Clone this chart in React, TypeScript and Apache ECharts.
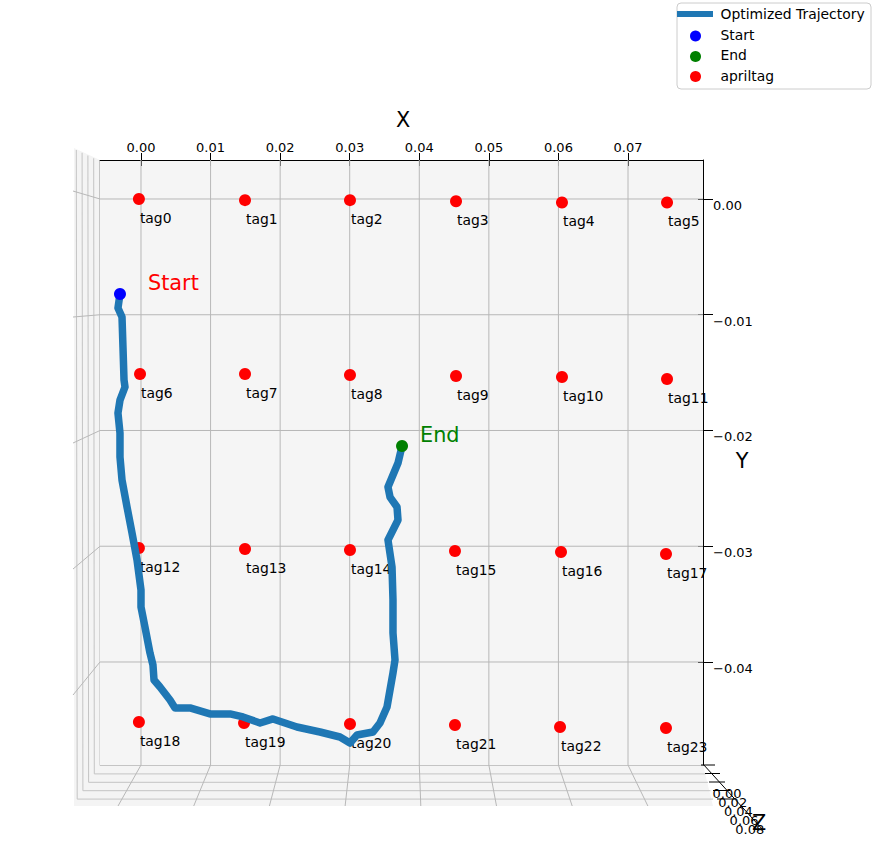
import React, { useEffect, useRef } from 'react';
import * as echarts from 'echarts';

const FONT = '"DejaVu Sans", sans-serif';

const xTicks = [0, 0.01, 0.02, 0.03, 0.04, 0.05, 0.06, 0.07];
const yTicks = [0, -0.01, -0.02, -0.03, -0.04];
const zTickLabels = ['0.00', '0.02', '0.04', '0.06', '0.08'];

const tagNames = [
  'tag0', 'tag1', 'tag2', 'tag3', 'tag4', 'tag5',
  'tag6', 'tag7', 'tag8', 'tag9', 'tag10', 'tag11',
  'tag12', 'tag13', 'tag14', 'tag15', 'tag16', 'tag17',
  'tag18', 'tag19', 'tag20', 'tag21', 'tag22', 'tag23',
];
const tagX = [
  -0.0003, 0.01495, 0.03004, 0.04528, 0.06051, 0.07561,
  -0.00014, 0.01495, 0.03004, 0.04528, 0.06051, 0.07561,
  -0.0003, 0.01495, 0.03004, 0.04513, 0.06037, 0.07546,
  -0.0003, 0.01481, 0.03004, 0.04513, 0.06023, 0.07546,
];
const tagY = [
  0, -0.0001, -0.0001, -0.0002, -0.0003, -0.0003,
  -0.01512, -0.01512, -0.0152, -0.01529, -0.01538, -0.01555,
  -0.03015, -0.03024, -0.03032, -0.03041, -0.0305, -0.03067,
  -0.04518, -0.04527, -0.04536, -0.04544, -0.04562, -0.0457,
];

const trajX = [
  -0.00302, -0.00331, -0.00273, -0.00259, -0.00244, -0.0023, -0.00302, -0.00331,
  -0.00302, -0.00302, -0.00273, -0.00201, -0.00129, -0.00057, 0, 0,
  0.00057, 0.00129, 0.00172, 0.00187, 0.00273, 0.00417, 0.00489, 0.00704,
  0.00992, 0.0128, 0.01466, 0.01711, 0.01897, 0.02242, 0.02573, 0.0286,
  0.03004, 0.03105, 0.03335, 0.03435, 0.03536, 0.03622, 0.03651, 0.03622,
  0.03622, 0.03608, 0.0355, 0.03694, 0.0368, 0.03579, 0.0355, 0.03694, 0.03752,
];
const trajY = [
  -0.00821, -0.00942, -0.01019, -0.01279, -0.01564, -0.01624, -0.01737, -0.01849,
  -0.02022, -0.02229, -0.02428, -0.02661, -0.02886, -0.03119, -0.03378, -0.03525,
  -0.03698, -0.03922, -0.04026, -0.04156, -0.04216, -0.04328, -0.04397, -0.04397,
  -0.04449, -0.04449, -0.04475, -0.04527, -0.04492, -0.04562, -0.04605, -0.04648,
  -0.047, -0.04631, -0.04605, -0.04527, -0.04389, -0.04095, -0.03983, -0.03749,
  -0.03464, -0.03179, -0.02946, -0.02773, -0.02661, -0.02575, -0.02488, -0.02281, -0.02134,
];

const startPoint = [-0.00302, -0.00821];
const endPoint = [0.03752, -0.02134];

const X_MIN = -0.005893;
const X_MAX = 0.08078;
const Y_MIN = -0.0489;
const Y_MAX = 0.003369;

const W = 878;
const H = 856;
const G_LEFT = 100;
const G_RIGHT = 703;
const G_TOP = 160;
const G_BOTTOM = 765;

const fmtY = (v: number) => (v < -1e-9 ? '\u2212' : '') + Math.abs(v).toFixed(2);

export default function App() {
  const ref = useRef<HTMLDivElement>(null);

  useEffect(() => {
    document.body.style.margin = '0';
    if (!ref.current) return;
    const chart = echarts.init(ref.current, null, { renderer: 'svg' });

    const option: any = {
      animation: false,
      backgroundColor: '#ffffff',
      grid: {
        left: G_LEFT,
        right: W - G_RIGHT,
        top: G_TOP,
        bottom: H - G_BOTTOM,
        show: true,
        backgroundColor: '#f5f5f5',
        borderWidth: 0,
      },
      xAxis: [
        {
          type: 'value',
          position: 'top',
          min: X_MIN,
          max: X_MAX,
          axisLine: { show: true, onZero: false, lineStyle: { color: '#000', width: 1 } },
          axisTick: { show: true, length: 7, customValues: xTicks, lineStyle: { color: '#000', width: 1 } },
          axisLabel: {
            show: true,
            customValues: xTicks,
            formatter: (v: number) => v.toFixed(2),
            color: '#000',
            fontSize: 13,
            fontFamily: FONT,
            margin: 6,
          },
          splitLine: { show: false },
        },
        {
          type: 'value',
          position: 'top',
          min: X_MIN,
          max: X_MAX,
          axisLine: { show: false, onZero: false },
          axisTick: { show: true, inside: true, length: 6, customValues: xTicks, lineStyle: { color: '#000', width: 1 } },
          axisLabel: { show: false },
          splitLine: { show: false },
        },
      ],
      yAxis: [
        {
          type: 'value',
          position: 'right',
          min: Y_MIN,
          max: Y_MAX,
          axisLine: { show: true, onZero: false, lineStyle: { color: '#000', width: 1 } },
          axisTick: { show: true, length: 10, customValues: yTicks, lineStyle: { color: '#000', width: 1 } },
          axisLabel: {
            show: true,
            customValues: yTicks,
            formatter: fmtY,
            color: '#000',
            fontSize: 13,
            fontFamily: FONT,
            margin: 10,
            verticalAlign: 'top',
          },
          splitLine: { show: false },
        },
        {
          type: 'value',
          position: 'right',
          min: Y_MIN,
          max: Y_MAX,
          axisLine: { show: false, onZero: false },
          axisTick: { show: true, inside: true, length: 5, customValues: yTicks, lineStyle: { color: '#000', width: 1 } },
          axisLabel: { show: false },
          splitLine: { show: false },
        },
      ],
      series: [
        {
          name: 'apriltag',
          type: 'scatter',
          z: 2,
          symbol: 'circle',
          symbolSize: 12,
          itemStyle: { color: '#ff0000', opacity: 1 },
          data: tagNames.map((n, i) => ({ name: n, value: [tagX[i], tagY[i]] })),
          label: {
            show: true,
            formatter: '{b}',
            position: [7, 25],
            align: 'left',
            verticalAlign: 'middle',
            color: '#000',
            opacity: 1,
            fontSize: 13.9,
            fontFamily: FONT,
          },
        },
        {
          name: 'Optimized Trajectory',
          type: 'line',
          z: 3,
          showSymbol: false,
          symbol: 'none',
          data: trajX.map((x, i) => [x, trajY[i]]),
          lineStyle: { color: '#1f77b4', width: 7.5, cap: 'round', join: 'round', opacity: 1 },
        },
        {
          name: 'Start',
          type: 'scatter',
          z: 4,
          symbolSize: 12,
          itemStyle: { color: '#0000ff', opacity: 1 },
          data: [{ name: 'Start', value: startPoint }],
          label: {
            show: true,
            formatter: 'Start',
            position: [34, -5],
            align: 'left',
            verticalAlign: 'middle',
            color: '#ff0000',
            opacity: 1,
            fontSize: 20.8,
            fontFamily: FONT,
          },
        },
        {
          name: 'End',
          type: 'scatter',
          z: 4,
          symbolSize: 12,
          itemStyle: { color: '#008000', opacity: 1 },
          data: [{ name: 'End', value: endPoint }],
          label: {
            show: true,
            formatter: 'End',
            position: [24, -5],
            align: 'left',
            verticalAlign: 'middle',
            color: '#008000',
            opacity: 1,
            fontSize: 20.8,
            fontFamily: FONT,
          },
        },
      ],
    };

    chart.setOption(option);

    const toPx = (x: number, y: number) =>
      chart.convertToPixel({ xAxisIndex: 0, yAxisIndex: 0 }, [x, y]) as number[];

    const GRID_COLOR = '#b8b8b8';
    const elements: any[] = [];

    elements.push({
      type: 'polygon',
      z: -10,
      silent: true,
      shape: { points: [[74, 148], [G_LEFT, G_TOP], [G_LEFT, G_BOTTOM], [G_RIGHT, G_BOTTOM], [713, 806], [74, 806]] },
      style: { fill: '#f4f4f4', stroke: 'none' },
    });

    for (let i = 0; i < zTickLabels.length; i++) {
      elements.push({
        type: 'polyline',
        z: -5,
        silent: true,
        shape: {
          points: [
            [99.5 - 5.8 * i, 161 - 2.75 * i],
            [100 - 5.7 * i, 765.5 + 8.4 * i],
            [G_RIGHT + 2.5 * i, 765.5 + 8.4 * i],
          ],
        },
        style: { stroke: '#c4c4c4', lineWidth: 1, fill: 'none' },
      });
    }

    xTicks.forEach((t) => {
      const p = toPx(t, 0)[0];
      elements.push({
        type: 'line',
        z: 1,
        silent: true,
        shape: { x1: p, y1: G_TOP, x2: p, y2: G_BOTTOM },
        style: { stroke: GRID_COLOR, lineWidth: 1 },
      });
      elements.push({
        type: 'line',
        z: -4,
        silent: true,
        shape: { x1: p, y1: G_BOTTOM, x2: 402 + (p - 402) * 1.088, y2: 806 },
        style: { stroke: GRID_COLOR, lineWidth: 1 },
      });
    });

    yTicks.forEach((t) => {
      const p = toPx(0, t)[1];
      elements.push({
        type: 'line',
        z: 1,
        silent: true,
        shape: { x1: G_LEFT, y1: p, x2: G_RIGHT, y2: p },
        style: { stroke: GRID_COLOR, lineWidth: 1 },
      });
      elements.push({
        type: 'line',
        z: -4,
        silent: true,
        shape: { x1: G_LEFT, y1: p, x2: 73, y2: 289 + (p - 289) * 1.0886 },
        style: { stroke: GRID_COLOR, lineWidth: 1 },
      });
    });

    elements.push({
      type: 'line',
      z: 5,
      silent: true,
      shape: { x1: 703, y1: 764, x2: 763, y2: 830 },
      style: { stroke: '#000', lineWidth: 1 },
    });
    zTickLabels.forEach((lab, i) => {
      elements.push({
        type: 'line',
        z: 5,
        silent: true,
        shape: { x1: 701 + 4 * i, y1: 765 + 8.5 * i, x2: 715 + 5 * i, y2: 765 + 8.5 * i },
        style: { stroke: '#000', lineWidth: 1 },
      });
    });
    zTickLabels.forEach((lab, i) => {
      elements.push({
        type: 'text',
        z: 6,
        silent: true,
        style: {
          text: lab,
          x: 727 + 5.7 * i,
          y: 793 + 9 * i,
          align: 'center',
          verticalAlign: 'middle',
          fontSize: 13,
          fontFamily: FONT,
          fill: '#000',
        },
      });
    });

    const title = (text: string, x: number, y: number) => ({
      type: 'text',
      z: 6,
      silent: true,
      style: { text, x, y, align: 'center', verticalAlign: 'middle', fontSize: 20.8, fontFamily: FONT, fill: '#000' },
    });
    elements.push(title('X', 403, 120));
    elements.push(title('Y', 742, 461));
    elements.push(title('Z', 759, 823));

    elements.push({
      type: 'rect',
      z: 10,
      silent: true,
      shape: { x: 677, y: 3, width: 194, height: 86, r: 4 },
      style: { fill: 'rgba(255,255,255,0.8)', stroke: '#cccccc', lineWidth: 1 },
    });
    elements.push({
      type: 'line',
      z: 11,
      silent: true,
      shape: { x1: 677, y1: 14, x2: 713, y2: 14 },
      style: { stroke: '#1f77b4', lineWidth: 6 },
    });
    const legendItems = [
      { label: 'Optimized Trajectory', y: 13.5, color: null },
      { label: 'Start', y: 34.5, color: '#0000ff' },
      { label: 'End', y: 55, color: '#008000' },
      { label: 'apriltag', y: 75.5, color: '#ff0000' },
    ];
    const legendDotY = [0, 36, 56.5, 76.5];
    legendItems.forEach((it, i) => {
      if (it.color) {
        elements.push({
          type: 'circle',
          z: 11,
          silent: true,
          shape: { cx: 695.5, cy: legendDotY[i], r: 5.5 },
          style: { fill: it.color },
        });
      }
      elements.push({
        type: 'text',
        z: 11,
        silent: true,
        style: {
          text: it.label,
          x: 720.5,
          y: it.y,
          align: 'left',
          verticalAlign: 'middle',
          fontSize: 13.9,
          fontFamily: FONT,
          fill: '#000',
        },
      });
    });

    chart.setOption({ graphic: elements });

    return () => chart.dispose();
  }, []);

  return <div ref={ref} style={{ width: W, height: H }} />;
}
